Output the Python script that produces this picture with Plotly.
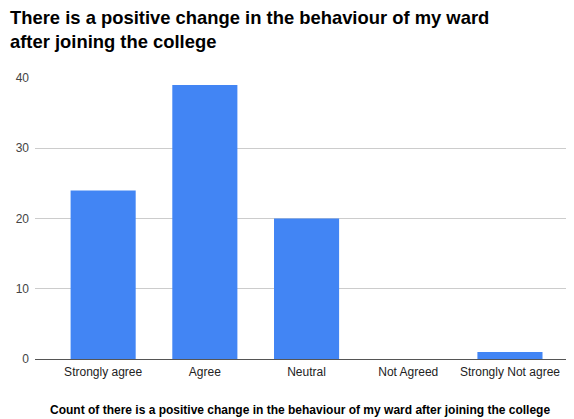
# Bar chart: responses on behaviour change after joining the college
import plotly.graph_objects as go

# --- Data ---
categories = ["Strongly agree", "Agree", "Neutral", "Not Agreed", "Strongly Not agree"]
counts = [24, 39, 20, 0, 1]
y_ticks = [0, 10, 20, 30, 40]

title_text = ("There is a positive change in the behaviour of my ward<br>"
              "after joining the college")
x_title = "Count of there is a positive change in the behaviour of my ward after joining the college"

fig = go.Figure(go.Bar(
    x=list(range(len(categories))),
    y=counts,
    width=0.64,
    marker=dict(color="#4285f4", line=dict(width=0)),
    hoverinfo="x+y",
))

# the page body adds an 8px margin, so the figure is 8px smaller than the window
fig.update_layout(
    width=566, height=411,
    margin=dict(l=27, r=2, t=70, b=60, autoexpand=False),
    paper_bgcolor="white", plot_bgcolor="white",
    font=dict(family="Liberation Sans, Arial, sans-serif", color="#222"),
    showlegend=False,
    annotations=[
        dict(text="<b>" + title_text + "</b>", xref="paper", yref="paper",
             x=-0.05, y=1.26, xanchor="left", yanchor="top", align="left",
             showarrow=False,
             font=dict(size=18.4, color="#000")),
        dict(text="<b>" + x_title + "</b>", xref="paper", yref="paper",
             x=0.4935, y=-0.1815, xanchor="center", yanchor="middle",
             showarrow=False, font=dict(size=12, color="#000")),
    ],
)

fig.update_xaxes(
    tickmode="array",
    tickvals=list(range(len(categories))),
    ticktext=categories,
    range=[-0.67, 4.61],
    showgrid=False, zeroline=False,
    showline=True, linecolor="#555", linewidth=1,
    ticks="", tickfont=dict(size=12, color="#222"),
    ticklabelstandoff=2,
    automargin=False,
)

fig.update_yaxes(
    range=[0, 40],
    tickvals=y_ticks,
    showgrid=True, gridcolor="#cccccc", gridwidth=1,
    zeroline=False, showline=False,
    ticks="", tickfont=dict(size=12, color="#444"),
    ticklabelstandoff=5,
    automargin=False,
)

fig.write_html("out.html")
